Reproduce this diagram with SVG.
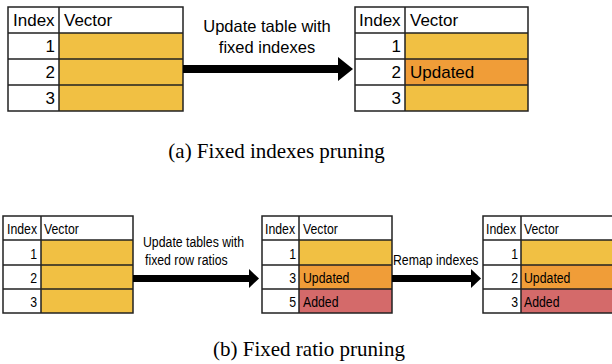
<svg xmlns="http://www.w3.org/2000/svg" width="612" height="364" viewBox="0 0 612 364">
  <style>
    .t { font-family: "Liberation Sans", Arial, sans-serif; fill: #000; }
    .a { font-size: 17px; }
    .b { font-size: 15px; }
    .r { text-anchor: end; }
    .cap { font-family: "Liberation Serif", "Times New Roman", serif; font-size: 21px; text-anchor: middle; fill: #000; }
    .lbl { font-family: "Liberation Sans", Arial, sans-serif; font-size: 16.5px; text-anchor: middle; fill: #000; }
    .white { fill: #fff; }
    .yel { fill: #F1C043; }
    .org { fill: #F09D38; }
    .red { fill: #D46A6A; }
    .grid { stroke: #222; stroke-width: 1.5; fill: none; }
  </style>
  <rect width="612" height="364" fill="#fff"/>

  <!-- (a) source table -->
  <g id="table-a-before">
    <rect x="8" y="7" width="175" height="26" class="white"/>
    <rect x="8" y="33" width="51" height="78" class="white"/>
    <rect x="59" y="33" width="124" height="26" class="yel"/>
    <rect x="59" y="59" width="124" height="26" class="yel"/>
    <rect x="59" y="85" width="124" height="26" class="yel"/>
    <path class="grid" d="M8 7H183V111H8Z M59 7V111 M8 33H183 M8 59H183 M8 85H183"/>
    <text class="t a" x="13" y="26">Index</text>
    <text class="t a" x="64" y="26">Vector</text>
    <text class="t a r" x="55" y="52">1</text>
    <text class="t a r" x="55" y="78">2</text>
    <text class="t a r" x="55" y="104">3</text>
  </g>

  <!-- (a) result table -->
  <g id="table-a-after">
    <rect x="355" y="7" width="173" height="26" class="white"/>
    <rect x="355" y="33" width="50" height="78" class="white"/>
    <rect x="405" y="33" width="123" height="26" class="yel"/>
    <rect x="405" y="59" width="123" height="26" class="org"/>
    <rect x="405" y="85" width="123" height="26" class="yel"/>
    <path class="grid" d="M355 7H528V111H355Z M405 7V111 M355 33H528 M355 59H528 M355 85H528"/>
    <text class="t a" x="359" y="26">Index</text>
    <text class="t a" x="410" y="26">Vector</text>
    <text class="t a r" x="401" y="52">1</text>
    <text class="t a r" x="401" y="78">2</text>
    <text class="t a r" x="401" y="104">3</text>
    <text class="t a" x="410" y="78">Updated</text>
  </g>

  <text class="cap" x="276.5" y="158">(a) Fixed indexes pruning</text>

  <!-- (b) source table -->
  <g id="table-b-first">
    <rect x="3" y="216" width="130" height="24" class="white"/>
    <rect x="3" y="240" width="38" height="73" class="white"/>
    <rect x="41" y="240" width="92" height="25" class="yel"/>
    <rect x="41" y="265" width="92" height="24" class="yel"/>
    <rect x="41" y="289" width="92" height="24" class="yel"/>
    <path class="grid" d="M3 216H133V313H3Z M41 216V313 M3 240H133 M3 265H133 M3 289H133"/>
    <text class="t b" transform="translate(7 234) scale(0.82 1)">Index</text>
    <text class="t b" transform="translate(44 234) scale(0.82 1)">Vector</text>
    <text class="t b r" transform="translate(37 259) scale(0.82 1)">1</text>
    <text class="t b r" transform="translate(37 283) scale(0.82 1)">2</text>
    <text class="t b r" transform="translate(37 307) scale(0.82 1)">3</text>
  </g>

  <!-- (b) table after update -->
  <g id="table-b-second">
    <rect x="262" y="216" width="130" height="24" class="white"/>
    <rect x="262" y="240" width="37" height="73" class="white"/>
    <rect x="299" y="240" width="93" height="25" class="yel"/>
    <rect x="299" y="265" width="93" height="24" class="org"/>
    <rect x="299" y="289" width="93" height="24" class="red"/>
    <path class="grid" d="M262 216H392V313H262Z M299 216V313 M262 240H392 M262 265H392 M262 289H392"/>
    <text class="t b" transform="translate(265 234) scale(0.82 1)">Index</text>
    <text class="t b" transform="translate(303 234) scale(0.82 1)">Vector</text>
    <text class="t b r" transform="translate(296 259) scale(0.82 1)">1</text>
    <text class="t b r" transform="translate(296 283) scale(0.82 1)">3</text>
    <text class="t b r" transform="translate(296 307) scale(0.82 1)">5</text>
    <text class="t b" transform="translate(303 283) scale(0.82 1)">Updated</text>
    <text class="t b" transform="translate(303 307) scale(0.82 1)">Added</text>
  </g>

  <!-- (b) table after remapping -->
  <g id="table-b-third">
    <rect x="483" y="216" width="131" height="24" class="white"/>
    <rect x="483" y="240" width="38" height="73" class="white"/>
    <rect x="521" y="240" width="93" height="25" class="yel"/>
    <rect x="521" y="265" width="93" height="24" class="org"/>
    <rect x="521" y="289" width="93" height="24" class="red"/>
    <path class="grid" d="M614 216H483V313H614 M521 216V313 M483 240H614 M483 265H614 M483 289H614"/>
    <text class="t b" transform="translate(486 234) scale(0.82 1)">Index</text>
    <text class="t b" transform="translate(524 234) scale(0.82 1)">Vector</text>
    <text class="t b r" transform="translate(518 259) scale(0.82 1)">1</text>
    <text class="t b r" transform="translate(518 283) scale(0.82 1)">2</text>
    <text class="t b r" transform="translate(518 307) scale(0.82 1)">3</text>
    <text class="t b" transform="translate(524 283) scale(0.82 1)">Updated</text>
    <text class="t b" transform="translate(524 307) scale(0.82 1)">Added</text>
  </g>

  <text class="cap" x="309" y="356">(b) Fixed ratio pruning</text>

  <!-- connectors -->
  <g id="connectors" fill="#000">
    <rect x="183" y="65" width="157" height="8"/>
    <polygon points="338,57 353,69 338,81"/>
    <text class="lbl" x="267" y="32">Update table with</text>
    <text class="lbl" x="267" y="53">fixed indexes</text>

    <rect x="133" y="275" width="117" height="7"/>
    <polygon points="249,269 259,278.5 249,288"/>
    <text class="t b" transform="translate(143 247) scale(0.82 1)">Update tables with</text>
    <text class="t b" transform="translate(145 265) scale(0.82 1)">fixed row ratios</text>

    <rect x="392" y="275" width="80" height="7"/>
    <polygon points="471,269 481,278.5 471,288"/>
    <text class="t b" transform="translate(393 265) scale(0.82 1)">Remap indexes</text>
  </g>
</svg>
